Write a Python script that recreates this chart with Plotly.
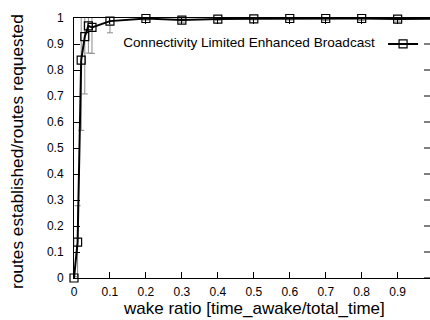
import plotly.graph_objects as go

wake_ratio = [0, 0.01, 0.02, 0.03, 0.04, 0.05, 0.1, 0.2, 0.3, 0.4, 0.5, 0.6, 0.7, 0.8, 0.9, 1.0]
success = [0.0, 0.138, 0.838, 0.928, 0.970, 0.964, 0.988, 0.998, 0.992, 0.996, 0.997, 0.998, 0.998, 0.998, 0.996, 0.997]
err = [0.005, 0.14, 0.27, 0.22, 0.105, 0.10, 0.045, 0.006, 0.008, 0.005, 0.004, 0.006, 0.008, 0.008, 0.008, 0.006]

x_ticks = [0, 0.1, 0.2, 0.3, 0.4, 0.5, 0.6, 0.7, 0.8, 0.9]
x_tick_labels = ["0", "0.1", "0.2", "0.3", "0.4", "0.5", "0.6", "0.7", "0.8", "0.9"]
y_ticks = [0, 0.1, 0.2, 0.3, 0.4, 0.5, 0.6, 0.7, 0.8, 0.9, 1]
y_tick_labels = ["0", "0.1", "0.2", "0.3", "0.4", "0.5", "0.6", "0.7", "0.8", "0.9", "1"]

series_name = "Connectivity Limited Enhanced Broadcast"
x_title = "wake ratio [time_awake/total_time]"
y_title = "routes established/routes requested"
FONT = "Liberation Sans, Arial, Helvetica, sans-serif"

W, H = 430, 320
ML, MR, MT, MB = 74, 0, 18, 42
plot_w = W - ML - MR
plot_h = H - MT - MB

fig = go.Figure()
# error bars (clipped to plot area)
fig.add_trace(go.Scatter(
    x=wake_ratio, y=success, mode="markers",
    marker=dict(size=0.1, color="rgba(0,0,0,0)"),
    error_y=dict(type="data", array=err, color="#8a8a8a", thickness=1, width=3),
    showlegend=False, hoverinfo="skip", cliponaxis=True,
))
# main line with markers
fig.add_trace(go.Scatter(
    x=wake_ratio, y=success, mode="lines+markers", name="",
    line=dict(color="black", width=2),
    marker=dict(symbol="square-open", size=8, color="black", line=dict(width=1.2)),
    cliponaxis=False, showlegend=True,
))

# inward ticks on the (off-image) right border
right_ticks = [
    dict(type="line", xref="paper", yref="y", x0=1 - 6 / plot_w, x1=1, y0=t, y1=t,
         line=dict(color="black", width=1))
    for t in y_ticks
]

fig.update_layout(
    width=W, height=H,
    margin=dict(l=ML, r=MR, t=MT, b=MB),
    paper_bgcolor="white", plot_bgcolor="white",
    font=dict(family=FONT, color="black", size=12),
    xaxis=dict(
        range=[0, 0.99], tickvals=x_ticks, ticktext=x_tick_labels,
        ticks="inside", ticklen=6, tickcolor="black", tickwidth=1,
        showline=True, linecolor="black", linewidth=1, mirror="ticks",
        showgrid=False, zeroline=False, ticklabelstandoff=3,
        tickfont=dict(size=12, family=FONT),
    ),
    yaxis=dict(
        range=[0, 1], tickvals=y_ticks, ticktext=y_tick_labels,
        ticks="inside", ticklen=6, tickcolor="black", tickwidth=1,
        showline=True, linecolor="black", linewidth=1,
        showgrid=False, zeroline=False, ticklabelstandoff=7,
        tickfont=dict(size=12, family=FONT),
    ),
    legend=dict(
        x=0.995, y=0.9, xanchor="right", yanchor="middle",
        bgcolor="rgba(0,0,0,0)", borderwidth=0,
        title=dict(text=series_name, side="left", font=dict(size=13.6, family=FONT)),
        font=dict(size=13, family=FONT), itemwidth=30,
    ),
    shapes=right_ticks,
    annotations=[
        dict(text=x_title, xref="paper", yref="paper", x=(254 - ML) / plot_w, y=-(308 - H + MB) / plot_h,
             xanchor="center", yanchor="middle", showarrow=False,
             font=dict(size=17, family=FONT, color="black")),
        dict(text=y_title, xref="paper", yref="paper", x=-(ML - 17) / plot_w, y=(H - MB - 152) / plot_h,
             xanchor="center", yanchor="middle", showarrow=False, textangle=-90,
             font=dict(size=17.3, family=FONT, color="black")),
    ],
)

fig.write_html("out.html", config={"displayModeBar": False},
               post_script="document.body.style.margin='0';")
